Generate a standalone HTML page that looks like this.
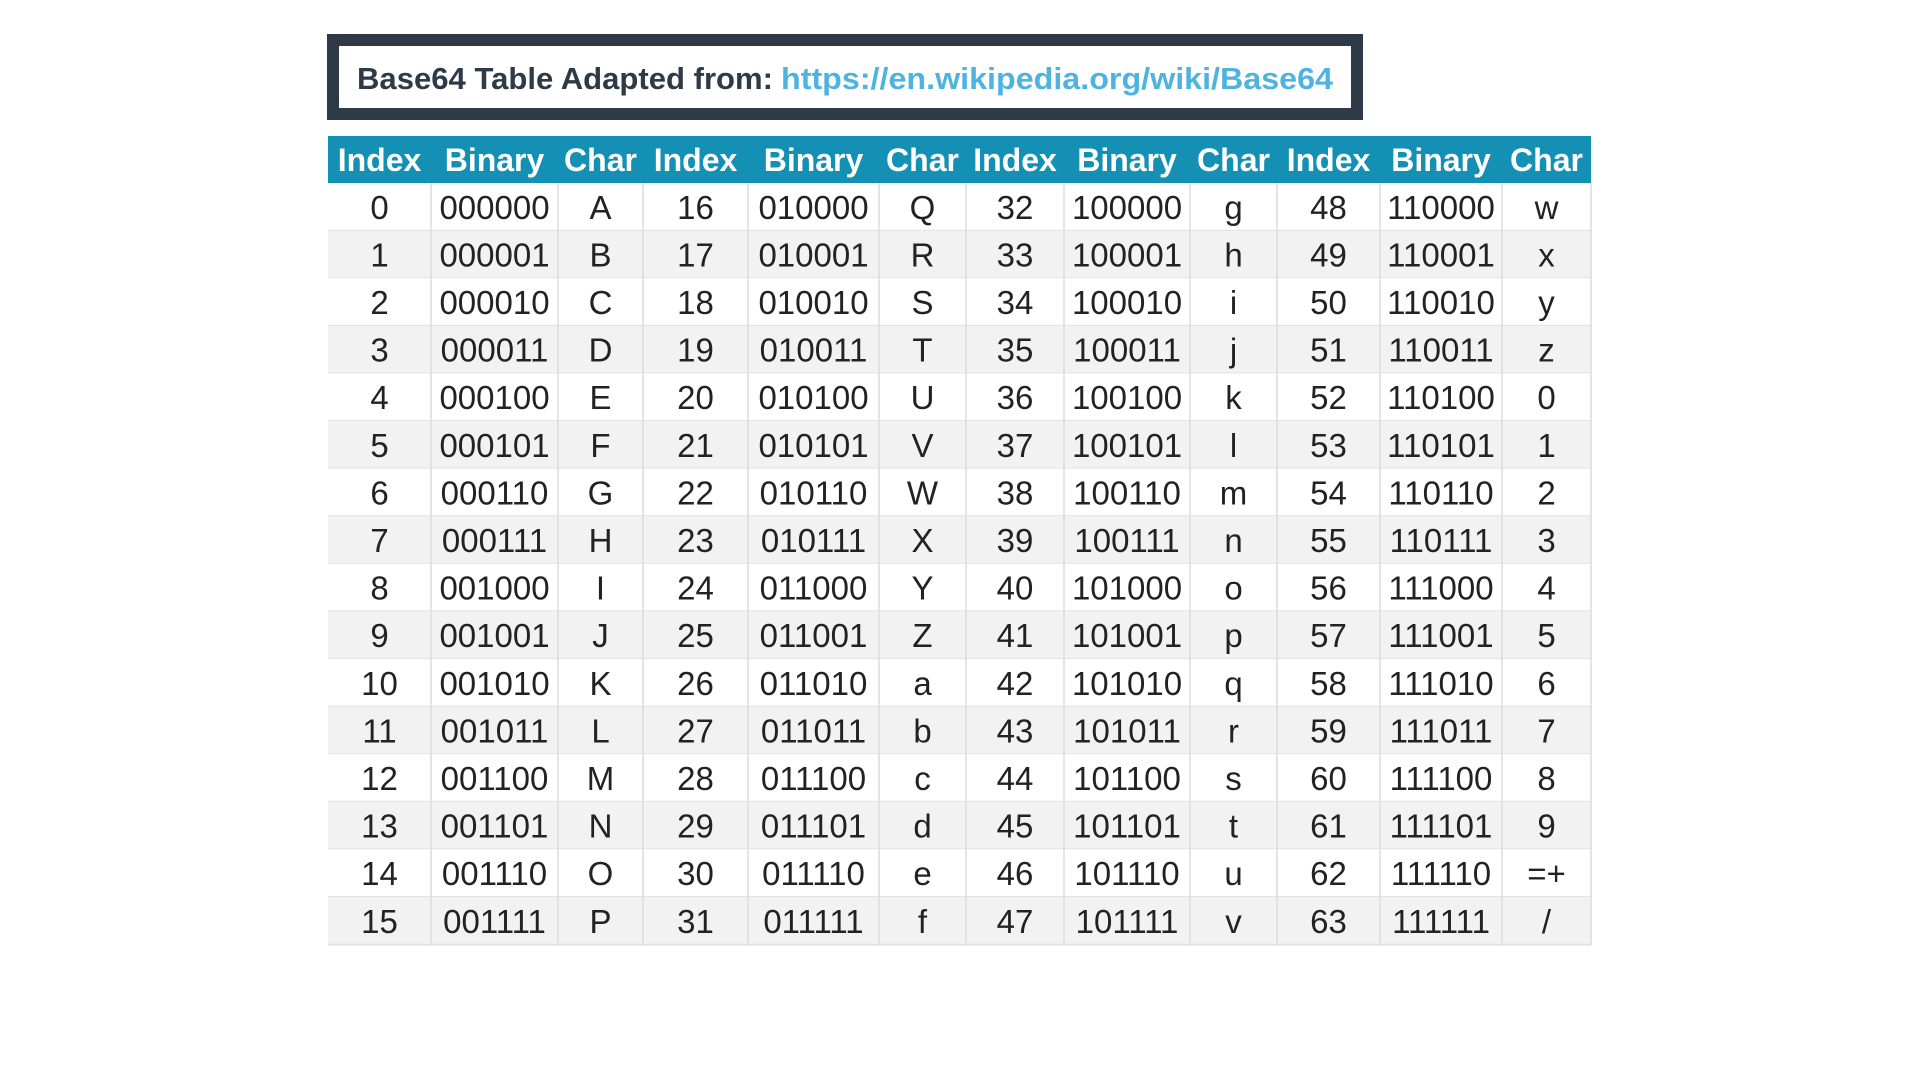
<!DOCTYPE html>
<html><head><meta charset="utf-8"><style>
html,body{margin:0;padding:0;background:#fff;}
svg{display:block;font-family:"Liberation Sans",sans-serif;}
</style></head><body>
<svg id="chart" width="1920" height="1080" viewBox="0 0 1920 1080">
<rect x="0" y="0" width="1920" height="1080" fill="#fff"/>
<g>
<rect x="333" y="40" width="1024" height="74" fill="#fff" stroke="#2e3a47" stroke-width="12"/>
<text x="357" y="89" font-size="31" font-weight="bold" fill="#2e3a47" textLength="416" lengthAdjust="spacingAndGlyphs">Base64 Table Adapted from:</text>
<text x="781" y="89" font-size="31" font-weight="bold" fill="#4fb3e0" textLength="552" lengthAdjust="spacingAndGlyphs">https://en.wikipedia.org/wiki/Base64</text>
</g>
<g id="table"></g>
</svg>
<script>
const headers = ["Index","Binary","Char"];
const chars = ["A","B","C","D","E","F","G","H","I","J","K","L","M","N","O","P",
"Q","R","S","T","U","V","W","X","Y","Z","a","b","c","d","e","f",
"g","h","i","j","k","l","m","n","o","p","q","r","s","t","u","v",
"w","x","y","z","0","1","2","3","4","5","6","7","8","9","=+","/"];
const binaries = chars.map((c,i)=>i.toString(2).padStart(6,"0"));

const NS="http://www.w3.org/2000/svg";
const g=document.getElementById("table");
const colX=[328,431,558,643,748,879,966,1064,1190,1277,1380,1502,1591];
const headTop=136, headH=47, rowH=47.6, nRows=16;
function mk(tag,attrs){const e=document.createElementNS(NS,tag);for(const k in attrs)e.setAttribute(k,attrs[k]);return e;}
const hb=mk("rect",{x:colX[0],y:headTop,width:colX[12]-colX[0],height:headH,fill:"#1590b5"});


g.appendChild(hb);
for(let r=0;r<nRows;r++){
  const y=headTop+headH+r*rowH;
  const rb=mk("rect",{x:colX[0],y:y,width:colX[12]-colX[0],height:rowH,fill:r%2?"#f2f2f2":"#fff"});
  
  
  g.appendChild(rb);
  const ln=mk("line",{x1:colX[0],x2:colX[12],y1:y+rowH,y2:y+rowH,stroke:"#e2e2e2","stroke-width":2});
  
  
  g.appendChild(ln);
}
for(let c=1;c<=12;c++){
  const ln=mk("line",{x1:colX[c],x2:colX[c],y1:headTop+headH,y2:headTop+headH+nRows*rowH,stroke:"#dcdcdc","stroke-width":1.5});
  
  
  g.appendChild(ln);
}
for(let c=0;c<12;c++){
  const t=mk("text",{x:(colX[c]+colX[c+1])/2,y:headTop+35,"text-anchor":"middle","font-size":32,"font-weight":"bold",fill:"#fff"});
  t.textContent=headers[c%3];
  
  
  g.appendChild(t);
}
for(let i=0;i<chars.length;i++){
  const grp=Math.floor(i/16), r=i%16;
  const y=headTop+headH+r*rowH+rowH/2+12;
  const vals=[String(i),binaries[i],chars[i]];
  const names=['index-cell','binary-cell','char-cell'];
  for(let k=0;k<3;k++){
    const c=grp*3+k;
    const t=mk("text",{x:(colX[c]+colX[c+1])/2,y:y,"text-anchor":"middle","font-size":33,fill:"#222"});
    t.textContent=vals[k];
    
    
    g.appendChild(t);
  }
}
</script>
</body></html>
